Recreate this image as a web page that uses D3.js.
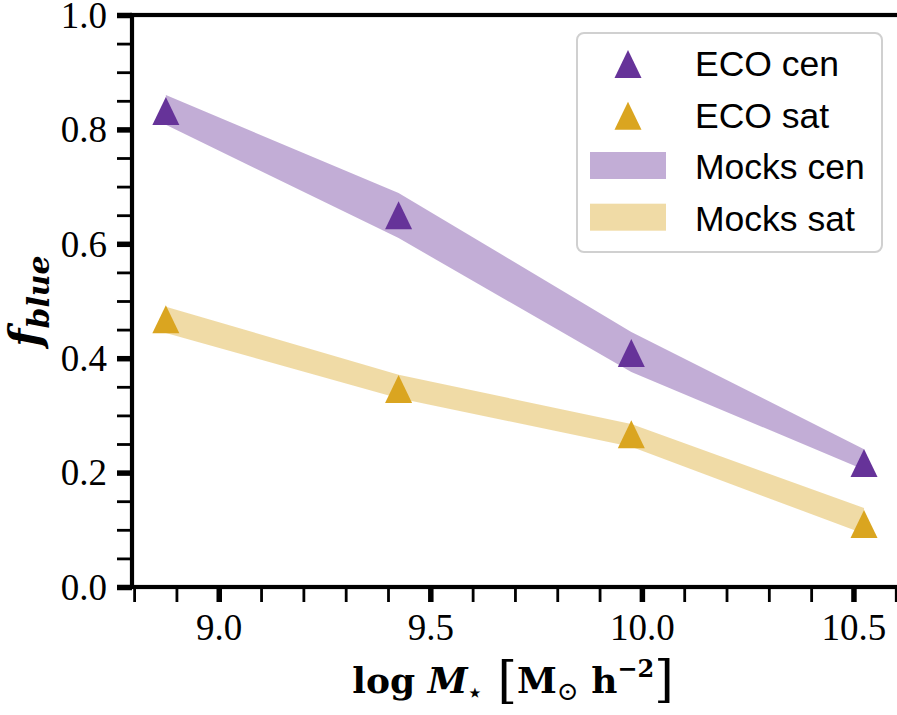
<!DOCTYPE html>
<html>
  <head>
    <meta charset="utf-8">
    <title>Blue fraction vs stellar mass</title>
    <script src="https://cdn.jsdelivr.net/npm/d3@7"></script>
    <style>
      body { margin: 0; background: white; }
      .ticklab text {
        font-family: "Liberation Serif", "Times New Roman", Times, serif !important;
        font-weight: normal;
        font-size: 37px;
      }
    </style>
  </head>
  <body>
    <script>

      // data
      var massBins   = [8.875, 9.425, 9.975, 10.525];
      var ecoCen     = [0.832, 0.650, 0.409, 0.217];
      var ecoSat     = [0.468, 0.346, 0.267, 0.110];
      var mocksCenLo = [0.808, 0.610, 0.376, 0.205];
      var mocksCenHi = [0.860, 0.689, 0.446, 0.241];
      var mocksSatLo = [0.444, 0.330, 0.245, 0.093];
      var mocksSatHi = [0.490, 0.371, 0.285, 0.138];

      var xTicks = [9.0, 9.5, 10.0, 10.5];
      var yTicks = [0.0, 0.2, 0.4, 0.6, 0.8, 1.0];
      var legendLabels = ['ECO cen', 'ECO sat', 'Mocks cen', 'Mocks sat'];

      var purple = '#663399';
      var gold = '#daa520';

      var labelFont = 'DejaVu Serif';

      var outerWidth = 897;
      var outerHeight = 715;

      var plot = { left: 132, right: 900, top: 15, bottom: 587 };

      var svg = d3.select('body').append('svg')
        .attr('width', outerWidth)
        .attr('height', outerHeight);

      var xScale = d3.scaleLinear()
        .domain([8.795, 10.61])
        .range([plot.left, plot.right]);

      var yScale = d3.scaleLinear()
        .domain([0, 1])
        .range([plot.bottom, plot.top]);

      // shaded mock bands
      function band(lo, hi) {
        return d3.area()
          .x(function(d, i) { return xScale(massBins[i]); })
          .y0(function(d, i) { return yScale(lo[i]); })
          .y1(function(d, i) { return yScale(hi[i]); })(massBins);
      }

      svg.append('path')
        .attr('d', band(mocksCenLo, mocksCenHi))
        .attr('fill', purple)
        .attr('fill-opacity', 0.4);

      svg.append('path')
        .attr('d', band(mocksSatLo, mocksSatHi))
        .attr('fill', gold)
        .attr('fill-opacity', 0.4);

      // matplotlib '^' marker, centred on its bounding box
      var tri = 'M0,-14L13.5,14L-13.5,14Z';

      function markers(vals, color) {
        svg.append('g').selectAll('path')
          .data(vals)
          .enter()
          .append('path')
          .attr('d', tri)
          .attr('transform', function(d, i) {
            return 'translate(' + xScale(massBins[i]) + ',' + yScale(d) + ')';
          })
          .attr('fill', color);
      }
      markers(ecoCen, purple);
      markers(ecoSat, gold);

      // axes: minor ticks, then major ticks with labels
      var xMinor = d3.range(8.8, 10.61, 0.1);
      var yMinor = d3.range(0, 1.001, 0.05);

      var gx = svg.append('g').attr('transform', 'translate(0,' + plot.bottom + ')');
      gx.call(d3.axisBottom(xScale).tickValues(xMinor).tickFormat('').tickSize(15).tickSizeOuter(0));
      gx.selectAll('.tick line').attr('stroke-width', 2.8);

      var gx2 = svg.append('g').attr('class', 'ticklab').attr('transform', 'translate(0,' + plot.bottom + ')');
      gx2.call(d3.axisBottom(xScale).tickValues(xTicks).tickFormat(d3.format('.1f')).tickSize(15).tickSizeOuter(0).tickPadding(12));
      gx2.selectAll('.tick line').attr('stroke-width', 5.5);

      var gy = svg.append('g').attr('transform', 'translate(' + plot.left + ',0)');
      gy.call(d3.axisLeft(yScale).tickValues(yMinor).tickFormat('').tickSize(15).tickSizeOuter(0));
      gy.selectAll('.tick line').attr('stroke-width', 2.8);

      var gy2 = svg.append('g').attr('class', 'ticklab').attr('transform', 'translate(' + plot.left + ',0)');
      gy2.call(d3.axisLeft(yScale).tickValues(yTicks).tickFormat(d3.format('.1f')).tickSize(15).tickSizeOuter(0).tickPadding(10));
      gy2.selectAll('.tick line').attr('stroke-width', 5.5);

      svg.selectAll('.domain').remove();
      gy2.selectAll('.tick text').attr('dy', '0.33em');
      gx2.selectAll('.tick text').attr('dy', '0.7em');

      // spines
      svg.append('rect')
        .attr('x', plot.left)
        .attr('y', plot.top)
        .attr('width', plot.right - plot.left)
        .attr('height', plot.bottom - plot.top)
        .attr('fill', 'none')
        .attr('stroke', 'black')
        .attr('stroke-width', 4.2);

      // x label
      var xl = svg.append('text')
        .attr('font-family', labelFont)
        .attr('font-weight', 'bold')
        .attr('font-size', 36)
        .attr('x', 513)
        .attr('y', 693)
        .attr('text-anchor', 'middle');
      xl.append('tspan').text('log ');
      xl.append('tspan').attr('font-style', 'italic').text('M');
      xl.append('tspan').attr('font-size', 22).attr('dy', 7).text('\u22C6');
      xl.append('tspan').attr('font-size', 50).attr('dy', -3).attr('font-weight', 'normal').text(' [');
      xl.append('tspan').attr('dy', -4).text('M');
      xl.append('tspan').attr('font-size', 26).attr('dy', 7).attr('font-weight', 'normal').text('\u2299');
      xl.append('tspan').attr('dy', -7).text(' h');
      xl.append('tspan').attr('font-size', 24).attr('dy', -16).text('\u22122');
      xl.append('tspan').attr('font-size', 50).attr('dy', 19).attr('font-weight', 'normal').text(']');

      // y label
      var yl = svg.append('text')
        .attr('font-family', labelFont)
        .attr('font-weight', 'bold')
        .attr('font-style', 'italic')
        .attr('transform', 'translate(40,301) rotate(-90)')
        .attr('text-anchor', 'middle');
      yl.append('tspan').attr('font-size', 42).text('f');
      yl.append('tspan').attr('font-size', 30).attr('dy', 9).text('blue');

      // legend
      var legend = svg.append('g');
      legend.append('rect')
        .attr('x', 577)
        .attr('y', 33)
        .attr('width', 305)
        .attr('height', 219)
        .attr('rx', 7)
        .attr('fill', 'white')
        .attr('fill-opacity', 0.8)
        .attr('stroke', '#d0d0d0')
        .attr('stroke-width', 2);

      var rowH = 51.7;
      legend.selectAll('.legend_text')
        .data(legendLabels)
        .enter()
        .append('text')
        .attr('class', 'legend_text')
        .attr('font-family', 'Liberation Sans')
        .attr('font-size', 35.5)
        .attr('x', 695)
        .attr('y', function(d, i) { return 76 + i * rowH; })
        .text(function(d) { return d; });

      [purple, gold].forEach(function(c, i) {
        legend.append('path')
          .attr('d', tri)
          .attr('transform', 'translate(628,' + (64 + i * rowH) + ')')
          .attr('fill', c);
        legend.append('rect')
          .attr('x', 590)
          .attr('y', 152 + i * rowH)
          .attr('width', 76)
          .attr('height', 27)
          .attr('fill', c)
          .attr('fill-opacity', 0.4);
      });

    </script>
  </body>
</html>
